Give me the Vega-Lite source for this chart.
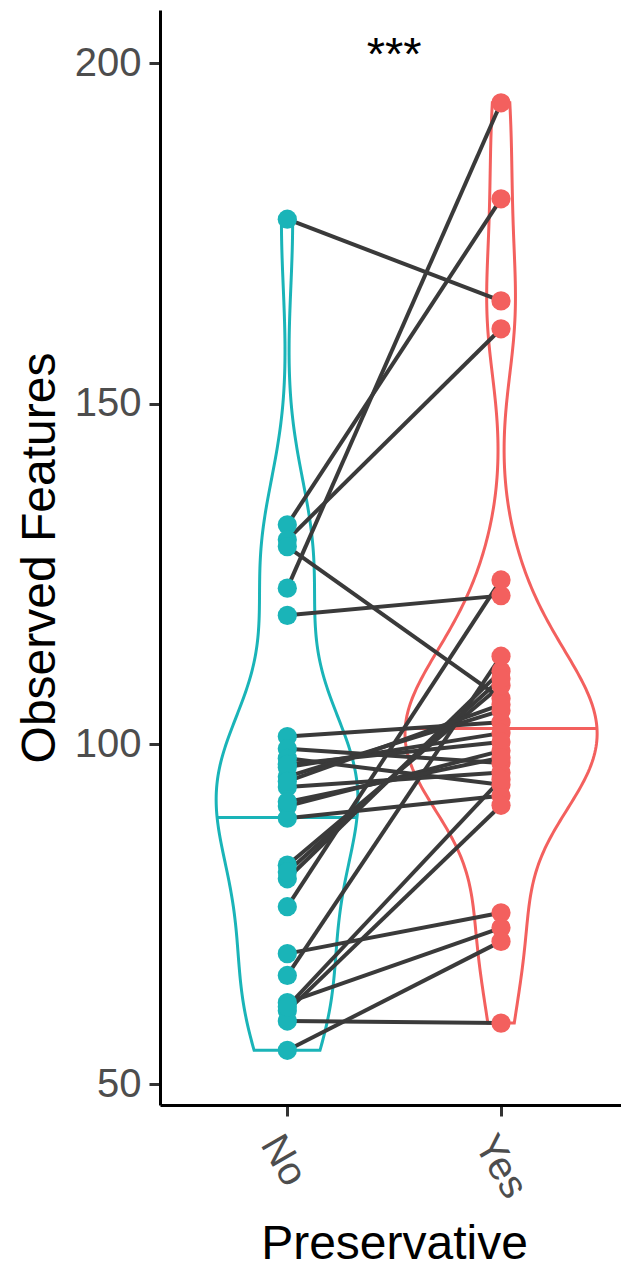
{
  "$schema": "https://vega.github.io/schema/vega-lite/v6.json",
  "width": 461,
  "height": 1095,
  "autosize": {"type": "none"},
  "padding": {"left": 160, "top": 10, "right": 0, "bottom": 167},
  "background": "white",
  "config": {
    "view": {"stroke": null},
    "font": "Liberation Sans",
    "axis": {
      "grid": false,
      "domainColor": "black",
      "domainWidth": 3,
      "tickColor": "#333333",
      "tickWidth": 3,
      "tickSize": 11,
      "labelFont": "Liberation Sans",
      "labelFontSize": 40,
      "labelColor": "#4d4d4d",
      "titleFont": "Liberation Sans",
      "titleFontSize": 48,
      "titleFontWeight": "normal",
      "titleColor": "black"
    }
  },
  "data": {
    "values": [
      {"pair": 1, "Preservative": "No", "features": 177.1},
      {"pair": 2, "Preservative": "No", "features": 132.2},
      {"pair": 3, "Preservative": "No", "features": 130.0},
      {"pair": 4, "Preservative": "No", "features": 129.0},
      {"pair": 5, "Preservative": "No", "features": 122.9},
      {"pair": 6, "Preservative": "No", "features": 118.9},
      {"pair": 7, "Preservative": "No", "features": 101.1},
      {"pair": 8, "Preservative": "No", "features": 99.3},
      {"pair": 9, "Preservative": "No", "features": 97.9},
      {"pair": 10, "Preservative": "No", "features": 96.6},
      {"pair": 11, "Preservative": "No", "features": 95.2},
      {"pair": 12, "Preservative": "No", "features": 93.7},
      {"pair": 13, "Preservative": "No", "features": 90.9},
      {"pair": 14, "Preservative": "No", "features": 89.1},
      {"pair": 15, "Preservative": "No", "features": 82.2},
      {"pair": 16, "Preservative": "No", "features": 80.2},
      {"pair": 17, "Preservative": "No", "features": 76.1},
      {"pair": 18, "Preservative": "No", "features": 69.2},
      {"pair": 19, "Preservative": "No", "features": 66.0},
      {"pair": 20, "Preservative": "No", "features": 62.0},
      {"pair": 21, "Preservative": "No", "features": 60.8},
      {"pair": 22, "Preservative": "No", "features": 59.3},
      {"pair": 23, "Preservative": "No", "features": 55.0},
      {"pair": 24, "Preservative": "No", "features": 97.0},
      {"pair": 25, "Preservative": "No", "features": 94.5},
      {"pair": 26, "Preservative": "No", "features": 91.5},
      {"pair": 27, "Preservative": "No", "features": 81.2},
      {"pair": 28, "Preservative": "No", "features": 61.4},
      {"pair": 1, "Preservative": "Yes", "features": 165.1},
      {"pair": 2, "Preservative": "Yes", "features": 180.1},
      {"pair": 3, "Preservative": "Yes", "features": 161.0},
      {"pair": 4, "Preservative": "Yes", "features": 106.7},
      {"pair": 5, "Preservative": "Yes", "features": 194.2},
      {"pair": 6, "Preservative": "Yes", "features": 121.8},
      {"pair": 7, "Preservative": "Yes", "features": 103.2},
      {"pair": 8, "Preservative": "Yes", "features": 97.2},
      {"pair": 9, "Preservative": "Yes", "features": 94.0},
      {"pair": 10, "Preservative": "Yes", "features": 101.6},
      {"pair": 11, "Preservative": "Yes", "features": 104.9},
      {"pair": 12, "Preservative": "Yes", "features": 95.8},
      {"pair": 13, "Preservative": "Yes", "features": 99.0},
      {"pair": 14, "Preservative": "Yes", "features": 92.4},
      {"pair": 15, "Preservative": "Yes", "features": 108.6},
      {"pair": 16, "Preservative": "Yes", "features": 110.7},
      {"pair": 17, "Preservative": "Yes", "features": 124.1},
      {"pair": 18, "Preservative": "Yes", "features": 75.2},
      {"pair": 19, "Preservative": "Yes", "features": 112.9},
      {"pair": 20, "Preservative": "Yes", "features": 73.0},
      {"pair": 21, "Preservative": "Yes", "features": 91.0},
      {"pair": 22, "Preservative": "Yes", "features": 59.0},
      {"pair": 23, "Preservative": "Yes", "features": 71.0},
      {"pair": 24, "Preservative": "Yes", "features": 100.3},
      {"pair": 25, "Preservative": "Yes", "features": 105.8},
      {"pair": 26, "Preservative": "Yes", "features": 98.0},
      {"pair": 27, "Preservative": "Yes", "features": 109.6},
      {"pair": 28, "Preservative": "Yes", "features": 94.8}
    ]
  },
  "layer": [
    {
      "transform": [
        {"filter": "datum.Preservative === 'No'"},
        {"density": "features", "bandwidth": 11, "extent": [55, 177.1], "steps": 300},
        {"stack": "density", "groupby": ["value"], "offset": "center", "as": ["x0", "x1"]}
      ],
      "mark": {"type": "area", "orient": "horizontal", "fill": "transparent", "stroke": "#1AB4B8", "strokeWidth": 3},
      "encoding": {
        "x": {"field": "x0", "type": "quantitative", "axis": null,
              "scale": {"domain": [-0.006473, 0.046662], "nice": false, "zero": false}},
        "x2": {"field": "x1"},
        "y": {"field": "value", "type": "quantitative", "title": "Observed Features",
              "scale": {"domain": [47.7, 207.1], "nice": false, "zero": false},
              "axis": {"values": [50, 100, 150, 200], "labelPadding": 8, "titlePadding": 10}}
      }
    },
    {
      "transform": [
        {"filter": "datum.Preservative === 'No'"},
        {"density": "features", "bandwidth": 11, "extent": [55, 177.1], "steps": 300},
        {"stack": "density", "groupby": ["value"], "offset": "center", "as": ["x0", "x1"]},
        {"filter": "datum.value > 89.0 && datum.value < 89.4"}
      ],
      "mark": {"type": "bar", "orient": "horizontal", "color": "#1AB4B8", "size": 3},
      "encoding": {
        "x": {"field": "x0", "type": "quantitative", "axis": null,
              "scale": {"domain": [-0.006473, 0.046662], "nice": false, "zero": false}},
        "x2": {"field": "x1"},
        "y": {"field": "value", "type": "quantitative", "title": "Observed Features",
              "scale": {"domain": [47.7, 207.1], "nice": false, "zero": false},
              "axis": {"values": [50, 100, 150, 200], "labelPadding": 8, "titlePadding": 10}}
      }
    },
    {
      "transform": [
        {"filter": "datum.Preservative === 'Yes'"},
        {"density": "features", "bandwidth": 9.5, "extent": [59, 194.2], "steps": 300},
        {"stack": "density", "groupby": ["value"], "offset": "center", "as": ["x0", "x1"]}
      ],
      "mark": {"type": "area", "orient": "horizontal", "fill": "transparent", "stroke": "#F3605E", "strokeWidth": 3},
      "encoding": {
        "x": {"field": "x0", "type": "quantitative", "axis": null,
              "scale": {"domain": [-0.028239, 0.024896], "nice": false, "zero": false}},
        "x2": {"field": "x1"},
        "y": {"field": "value", "type": "quantitative", "title": "Observed Features",
              "scale": {"domain": [47.7, 207.1], "nice": false, "zero": false},
              "axis": {"values": [50, 100, 150, 200], "labelPadding": 8, "titlePadding": 10}}
      }
    },
    {
      "transform": [
        {"filter": "datum.Preservative === 'Yes'"},
        {"density": "features", "bandwidth": 9.5, "extent": [59, 194.2], "steps": 300},
        {"stack": "density", "groupby": ["value"], "offset": "center", "as": ["x0", "x1"]},
        {"filter": "datum.value > 102.17 && datum.value < 102.62"}
      ],
      "mark": {"type": "bar", "orient": "horizontal", "color": "#F3605E", "size": 3},
      "encoding": {
        "x": {"field": "x0", "type": "quantitative", "axis": null,
              "scale": {"domain": [-0.028239, 0.024896], "nice": false, "zero": false}},
        "x2": {"field": "x1"},
        "y": {"field": "value", "type": "quantitative", "title": "Observed Features",
              "scale": {"domain": [47.7, 207.1], "nice": false, "zero": false},
              "axis": {"values": [50, 100, 150, 200], "labelPadding": 8, "titlePadding": 10}}
      }
    },
    {
      "mark": {"type": "line", "color": "#3a3a3a", "strokeWidth": 4},
      "encoding": {
        "x": {"field": "Preservative", "type": "nominal", "axis": null,
              "scale": {"type": "point", "domain": ["No", "Yes"], "padding": 0.5786, "align": 0.5148}},
        "y": {"field": "features", "type": "quantitative", "title": "Observed Features",
              "scale": {"domain": [47.7, 207.1], "nice": false, "zero": false},
              "axis": {"values": [50, 100, 150, 200], "labelPadding": 8, "titlePadding": 10}},
        "detail": {"field": "pair", "type": "nominal"}
      }
    },
    {
      "mark": {"type": "point", "filled": true, "size": 370, "opacity": 1},
      "encoding": {
        "x": {"field": "Preservative", "type": "nominal", "title": "Preservative",
              "scale": {"type": "point", "domain": ["No", "Yes"], "padding": 0.5786, "align": 0.5148},
              "axis": {"labelAngle": 60, "labelAlign": "left", "labelBaseline": "top", "labelPadding": 12, "titlePadding": 16, "titleX": 234}},
        "y": {"field": "features", "type": "quantitative", "title": "Observed Features",
              "scale": {"domain": [47.7, 207.1], "nice": false, "zero": false},
              "axis": {"values": [50, 100, 150, 200], "labelPadding": 8, "titlePadding": 10}},
        "color": {"field": "Preservative", "type": "nominal", "legend": null,
                  "scale": {"domain": ["No", "Yes"], "range": ["#1AB4B8", "#F3605E"]}}
      }
    },
    {
      "data": {"values": [{"label": "***", "features": 199.0}]},
      "mark": {"type": "text", "fontSize": 47, "font": "Liberation Sans", "color": "black", "baseline": "alphabetic", "align": "center"},
      "encoding": {
        "x": {"datum": 1.5, "type": "quantitative", "axis": null,
              "scale": {"domain": [1, 2], "range": [127.3, 341], "nice": false, "zero": false}},
        "y": {"field": "features", "type": "quantitative", "title": "Observed Features",
              "scale": {"domain": [47.7, 207.1], "nice": false, "zero": false},
              "axis": {"values": [50, 100, 150, 200], "labelPadding": 8, "titlePadding": 10}},
        "text": {"field": "label"}
      }
    }
  ],
  "resolve": {"scale": {"x": "independent"}}
}
